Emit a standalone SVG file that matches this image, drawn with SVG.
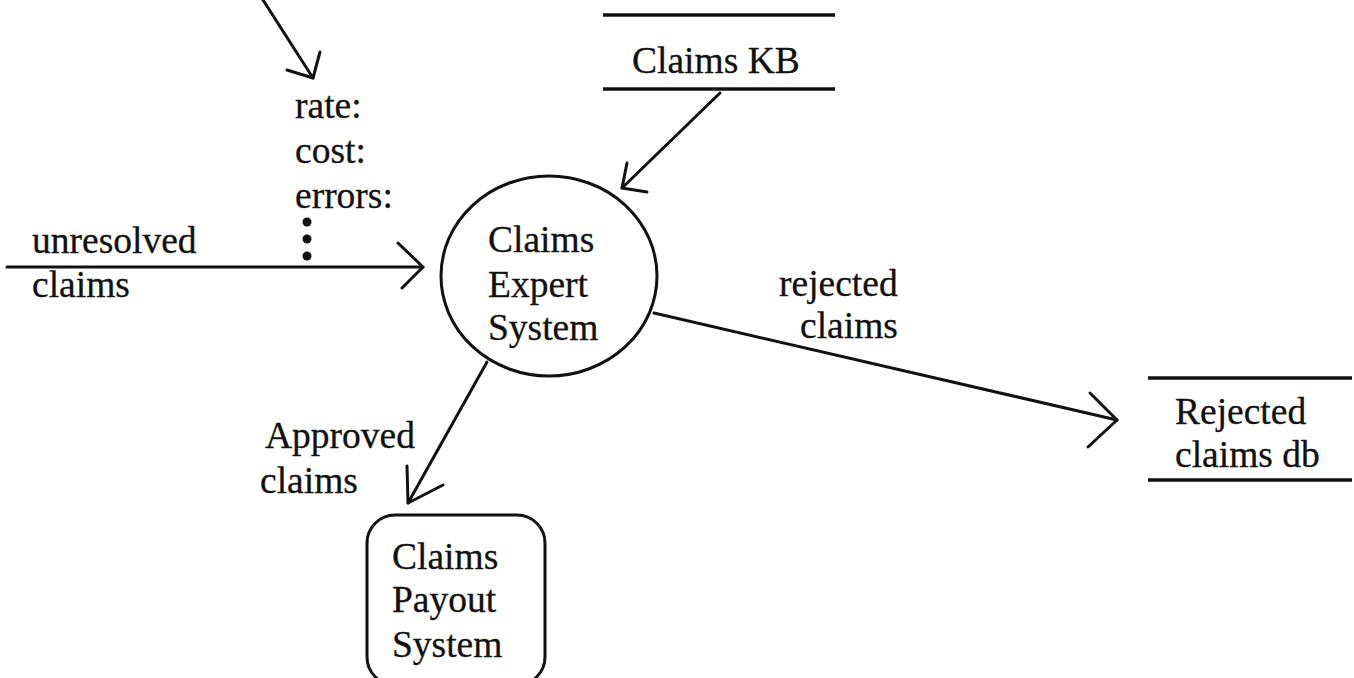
<svg xmlns="http://www.w3.org/2000/svg" width="1354" height="678" viewBox="0 0 1354 678">
  <style>
    .bg { fill: #ffffff; }
    .label { font-family: "Liberation Serif", "Times New Roman", serif; font-size: 37.5px; fill: #111111; stroke: #111111; stroke-width: 0.3; }
    .edge { fill: none; stroke: #111111; stroke-width: 3; stroke-linecap: round; stroke-linejoin: round; }
    .shape { fill: none; stroke: #111111; stroke-width: 3; }
    .store { fill: none; stroke: #111111; stroke-width: 3.5; }
    .dot { fill: #111111; }
  </style>

  <rect class="bg" x="0" y="0" width="1354" height="678"/>

  <!-- data flows -->
  <g id="connectors">
    <!-- incoming metrics flow from above -->
    <line class="edge" x1="263" y1="0" x2="313" y2="78"/>
    <polyline class="edge" points="287,70 313,78 320,52"/>

    <!-- unresolved claims into the expert system -->
    <line class="edge" x1="7" y1="267" x2="423" y2="267"/>
    <polyline class="edge" points="398,243 423,267 402,288"/>

    <!-- knowledge base into the expert system -->
    <line class="edge" x1="720" y1="93" x2="622" y2="188"/>
    <polyline class="edge" points="627,163 622,188 647,192"/>

    <!-- approved claims to payout -->
    <line class="edge" x1="487" y1="362" x2="408" y2="503"/>
    <polyline class="edge" points="407,466 408,503 443,485"/>

    <!-- rejected claims to the store -->
    <line class="edge" x1="654" y1="313" x2="1117" y2="420"/>
    <polyline class="edge" points="1090,393 1117,420 1088,447"/>

    <!-- flow labels -->
    <text class="label" x="295" y="118">rate:</text>
    <text class="label" x="295" y="163">cost:</text>
    <text class="label" x="295" y="208">errors:</text>
    <circle class="dot" cx="307" cy="222" r="4.5"/>
    <circle class="dot" cx="307" cy="239" r="4.5"/>
    <circle class="dot" cx="307" cy="256" r="4.5"/>

    <text class="label" x="32" y="253">unresolved</text>
    <text class="label" x="32" y="297">claims</text>

    <text class="label" x="779" y="296">rejected</text>
    <text class="label" x="800" y="338">claims</text>

    <text class="label" x="265" y="448">Approved</text>
    <text class="label" x="260" y="493">claims</text>
  </g>

  <!-- process: expert system -->
  <g id="claims-expert-system">
    <ellipse class="shape" cx="549" cy="276" rx="108" ry="100"/>
    <text class="label" x="488" y="252">Claims</text>
    <text class="label" x="488" y="297">Expert</text>
    <text class="label" x="488" y="340">System</text>
  </g>

  <!-- data store: knowledge base -->
  <g id="claims-kb">
    <line class="store" x1="603" y1="15" x2="835" y2="15"/>
    <line class="store" x1="603" y1="89" x2="835" y2="89"/>
    <text class="label" x="632" y="73">Claims KB</text>
  </g>

  <!-- data store: rejected claims -->
  <g id="rejected-claims-db">
    <line class="store" x1="1148" y1="378" x2="1352" y2="378"/>
    <line class="store" x1="1148" y1="480" x2="1352" y2="480"/>
    <text class="label" x="1175" y="424">Rejected</text>
    <text class="label" x="1175" y="467">claims db</text>
  </g>

  <!-- external system: payout -->
  <g id="claims-payout-system">
    <rect class="shape" x="367" y="515" width="178" height="170" rx="28" ry="28"/>
    <text class="label" x="392" y="569">Claims</text>
    <text class="label" x="392" y="612">Payout</text>
    <text class="label" x="392" y="657">System</text>
  </g>
</svg>
